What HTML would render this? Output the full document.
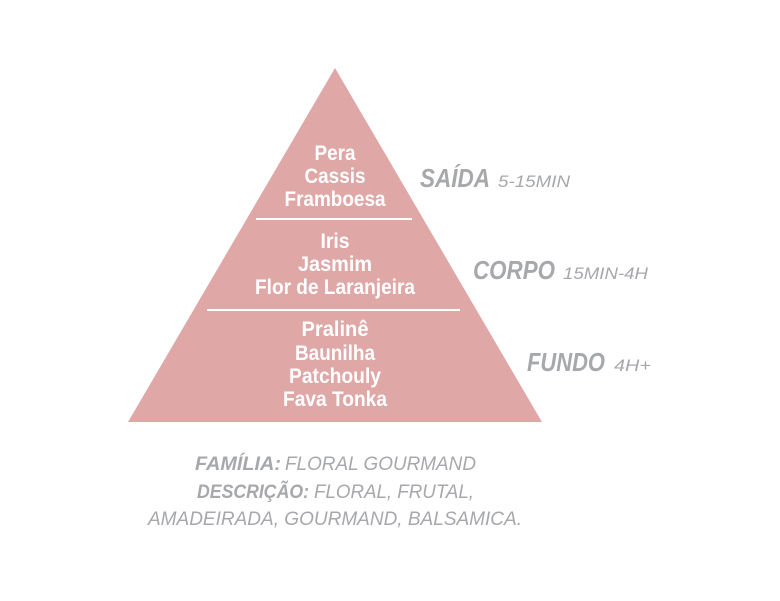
<!DOCTYPE html>
<html><head><meta charset="utf-8"><style>html,body{margin:0;padding:0;background:#fff}svg{display:block}</style></head>
<body>
<svg width="780" height="601" xmlns="http://www.w3.org/2000/svg" font-family="'Liberation Sans Narrow','Liberation Sans',sans-serif">
<polygon points="335,68 128,422 542,422" fill="#dfa8a7"/>
<rect x="256" y="218" width="156" height="2" fill="#fff"/>
<rect x="207" y="309" width="253" height="2" fill="#fff"/>
<g fill="#fff" font-weight="bold" font-size="21" text-anchor="middle">
<text x="335" y="160" textLength="41" lengthAdjust="spacingAndGlyphs">Pera</text>
<text x="335" y="183" textLength="61" lengthAdjust="spacingAndGlyphs">Cassis</text>
<text x="335" y="206" textLength="101" lengthAdjust="spacingAndGlyphs">Framboesa</text>
<text x="335" y="248" textLength="29" lengthAdjust="spacingAndGlyphs">Iris</text>
<text x="335" y="271" textLength="74" lengthAdjust="spacingAndGlyphs">Jasmim</text>
<text x="335" y="294" textLength="160" lengthAdjust="spacingAndGlyphs">Flor de Laranjeira</text>
<text x="335" y="336" textLength="67" lengthAdjust="spacingAndGlyphs">Pralinê</text>
<text x="335" y="360" textLength="80" lengthAdjust="spacingAndGlyphs">Baunilha</text>
<text x="335" y="383" textLength="92" lengthAdjust="spacingAndGlyphs">Patchouly</text>
<text x="335" y="406" textLength="104" lengthAdjust="spacingAndGlyphs">Fava Tonka</text>
</g>
<g fill="#a6a8ab" font-style="italic">
<text x="420" y="187" font-size="26" font-weight="bold" textLength="70" lengthAdjust="spacingAndGlyphs">SAÍDA</text>
<text x="498" y="187" font-size="17" textLength="72" lengthAdjust="spacingAndGlyphs">5-15MIN</text>
<text x="473" y="279" font-size="26" font-weight="bold" textLength="82" lengthAdjust="spacingAndGlyphs">CORPO</text>
<text x="563" y="279" font-size="17" textLength="85" lengthAdjust="spacingAndGlyphs">15MIN-4H</text>
<text x="527" y="371" font-size="26" font-weight="bold" textLength="78" lengthAdjust="spacingAndGlyphs">FUNDO</text>
<text x="614" y="371" font-size="17" textLength="37" lengthAdjust="spacingAndGlyphs">4H+</text>
<text x="195" y="470" font-size="19" font-weight="bold" textLength="86" lengthAdjust="spacingAndGlyphs">FAMÍLIA:</text>
<text x="285" y="470" font-size="19" textLength="191" lengthAdjust="spacingAndGlyphs">FLORAL GOURMAND</text>
<text x="197" y="498" font-size="19" font-weight="bold" textLength="112" lengthAdjust="spacingAndGlyphs">DESCRIÇÃO:</text>
<text x="314" y="498" font-size="19" textLength="160" lengthAdjust="spacingAndGlyphs">FLORAL, FRUTAL,</text>
<text x="148" y="525" font-size="19" textLength="374" lengthAdjust="spacingAndGlyphs">AMADEIRADA, GOURMAND, BALSAMICA.</text>
</g>
</svg>
</body></html>
